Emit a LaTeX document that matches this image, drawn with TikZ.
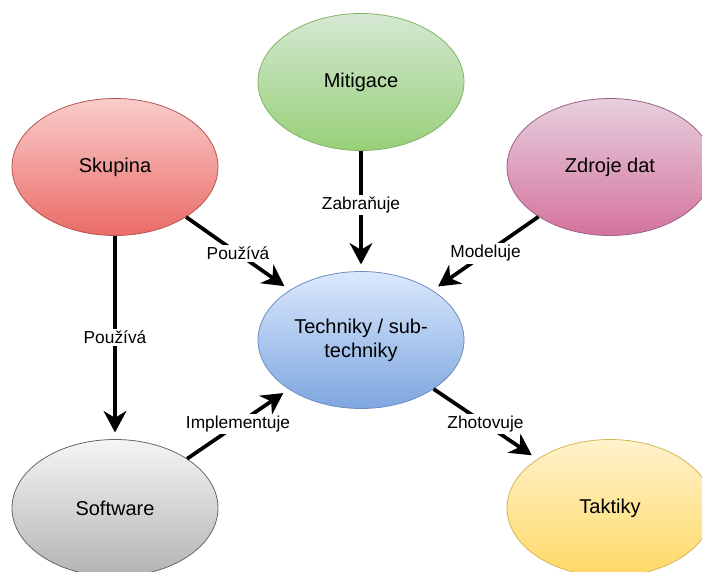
\documentclass[tikz,border=0pt]{standalone}
\usepackage{fontspec}
\setmainfont{Liberation Sans}
\usetikzlibrary{arrows.meta,shapes.geometric}

\definecolor{zelenaA}{HTML}{D5E8D4}
\definecolor{zelenaB}{HTML}{97D077}
\definecolor{zelenaC}{HTML}{82B366}
\definecolor{cervenaA}{HTML}{F8CECC}
\definecolor{cervenaB}{HTML}{EA6B66}
\definecolor{cervenaC}{HTML}{B85450}
\definecolor{fialovaA}{HTML}{E6D0DE}
\definecolor{fialovaB}{HTML}{D5739D}
\definecolor{fialovaC}{HTML}{996185}
\definecolor{modraA}{HTML}{DAE8FC}
\definecolor{modraB}{HTML}{7EA6E0}
\definecolor{modraC}{HTML}{6C8EBF}
\definecolor{sedaA}{HTML}{F5F5F5}
\definecolor{sedaB}{HTML}{B3B3B3}
\definecolor{sedaC}{HTML}{666666}
\definecolor{zlutaA}{HTML}{FFF2CC}
\definecolor{zlutaB}{HTML}{FFD966}
\definecolor{zlutaC}{HTML}{D6B656}

\begin{document}
\begin{tikzpicture}[x=0.75pt,y=-0.75pt,
        kruh/.style={ellipse, minimum width=154.5pt, minimum height=102.75pt,
            inner sep=0pt, line width=0.6pt, align=center,
            font=\fontsize{15}{18}\selectfont},
        sipka/.style={line width=2.8pt, -{Stealth[length=16pt,width=17pt,inset=5pt]},
            shorten >=5pt},
        popis/.style={fill=white, inner sep=1.5pt, font=\fontsize{13}{15}\selectfont}]
        \useasboundingbox (0,0) rectangle (702,571);

        \node[kruh, draw=zelenaC, top color=zelenaA, bottom color=zelenaB]    (mitigace) at (361,82)  {Mitigace};
        \node[kruh, draw=cervenaC, top color=cervenaA, bottom color=cervenaB] (skupina)  at (115,167) {Skupina};
        \node[kruh, draw=fialovaC, top color=fialovaA, bottom color=fialovaB] (zdroje)   at (610,167) {Zdroje dat};
        \node[kruh, draw=modraC, top color=modraA, bottom color=modraB]       (techniky) at (361,340) {Techniky / sub-\\techniky};
        \node[kruh, draw=sedaC, top color=sedaA, bottom color=sedaB]          (software) at (115,508) {Software};
        \node[kruh, draw=zlutaC, top color=zlutaA, bottom color=zlutaB]       (taktiky)  at (610,508) {Taktiky};

        \draw[sipka] (mitigace) -- node[popis, pos=0.45] {Zabraňuje} (techniky);
        \draw[sipka] (skupina)  -- node[popis] {Používá} (techniky);
        \draw[sipka] (zdroje)   -- node[popis] {Modeluje} (techniky);
        \draw[sipka] (skupina)  -- node[popis] {Používá} (software);
        \draw[sipka] (software) -- node[popis] {Implementuje} (techniky);
        \draw[sipka] (techniky) -- node[popis] {Zhotovuje} (taktiky);
\end{tikzpicture}
\end{document}
